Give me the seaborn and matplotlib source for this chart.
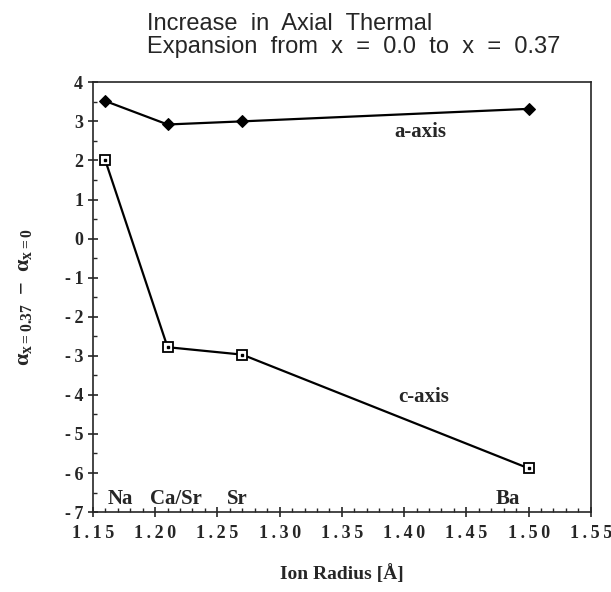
import numpy as np
import pandas as pd
import matplotlib
matplotlib.use("Agg")
import matplotlib.pyplot as plt
import seaborn as sns
from matplotlib.ticker import MultipleLocator, FuncFormatter

# data
ion_radius = [1.16, 1.21, 1.27, 1.50]
ions = ["Na", "Ca/Sr", "Sr", "Ba"]
a_axis = [3.52, 2.92, 3.00, 3.32]
c_axis = [2.00, -2.78, -2.97, -5.88]

x_ticks = [1.15, 1.20, 1.25, 1.30, 1.35, 1.40, 1.45, 1.50, 1.55]
y_ticks = [-7, -6, -5, -4, -3, -2, -1, 0, 1, 2, 3, 4]

df = pd.DataFrame({
    "radius": ion_radius * 2,
    "delta": a_axis + c_axis,
    "axis": ["a-axis"] * len(ion_radius) + ["c-axis"] * len(ion_radius),
})

sns.set_style("ticks")
plt.rcParams["font.family"] = ["Liberation Serif", "DejaVu Serif"]
plt.rcParams["font.weight"] = "bold"
plt.rcParams["axes.unicode_minus"] = False
plt.rcParams["mathtext.fontset"] = "custom"
plt.rcParams["mathtext.rm"] = "Liberation Serif:bold"
plt.rcParams["mathtext.it"] = "Liberation Serif:bold"
plt.rcParams["mathtext.bf"] = "Liberation Serif:bold"

fig = plt.figure(figsize=(6.11, 5.92), dpi=100)
ax = fig.add_axes([0.152, 0.135, 0.815, 0.726])

sns.lineplot(data=df[df["axis"] == "a-axis"], x="radius", y="delta", ax=ax,
             color="black", lw=1.6, marker="D", markersize=6,
             markerfacecolor="black", markeredgecolor="black")
sns.lineplot(data=df[df["axis"] == "c-axis"], x="radius", y="delta", ax=ax,
             color="black", lw=1.6, marker="s", markersize=7,
             markerfacecolor="white", markeredgecolor="black", markeredgewidth=1.3)
# small dot inside the open squares
ax.plot(ion_radius, c_axis, ls="none", marker="s", markersize=1.8, color="black")

# spaced-out tick labels like the original
spaced = lambda s: "\u2009".join(s)
ax.set_xlim(1.15, 1.55)
ax.set_ylim(-7, 4)
ax.set_xticks(x_ticks)
ax.set_yticks(y_ticks)
ax.xaxis.set_major_formatter(FuncFormatter(lambda v, p: spaced(f"{v:.2f}")))
ax.yaxis.set_major_formatter(FuncFormatter(lambda v, p: spaced(f"{v:.0f}")))
ax.xaxis.set_minor_locator(MultipleLocator(0.01))
ax.yaxis.set_minor_locator(MultipleLocator(0.5))
ax.tick_params(which="major", direction="inout", length=7, width=1.2, labelsize=13)
ax.tick_params(axis="x", which="major", pad=6)
ax.tick_params(which="minor", direction="in", length=3, width=1)
for lab in ax.get_xticklabels() + ax.get_yticklabels():
    lab.set_fontweight("bold")
for s in ax.spines.values():
    s.set_linewidth(1.2)
    s.set_visible(True)

# ion names along the bottom
ion_x = [1.172, 1.217, 1.266, 1.483]
for xi, name in zip(ion_x, ions):
    ax.text(xi, -6.67, name, ha="center", va="center", fontsize=15, fontweight="bold")

ax.text(1.413, 2.72, "a-axis", ha="center", va="center", fontsize=15, fontweight="bold")
ax.text(1.416, -4.06, "c-axis", ha="center", va="center", fontsize=15, fontweight="bold")

ax.set_xlabel("Ion Radius [Å]", fontsize=14, fontweight="bold", labelpad=16)
ax.set_ylabel(r"$\alpha_{x=0.37}\ -\ \alpha_{x=0}$", fontsize=16, labelpad=22)

fig.text(0.24, 0.978, "Increase  in  Axial  Thermal\nExpansion  from  x  =  0.0  to  x  =  0.37",
         ha="left", va="top", fontsize=17, family=["Liberation Sans", "DejaVu Sans"],
         fontweight="normal", linespacing=1.05)

fig.savefig("out.png", dpi=100)
